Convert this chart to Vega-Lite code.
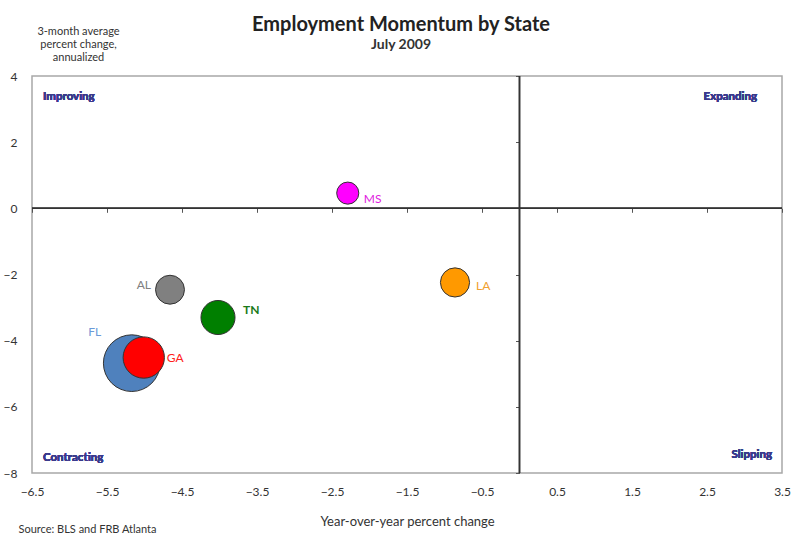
{
  "$schema": "https://vega.github.io/schema/vega-lite/v6.json",
  "width": 750,
  "height": 397,
  "autosize": "none",
  "padding": {"left": 32, "top": 76, "right": 10, "bottom": 64},
  "background": "white",
  "config": {
    "font": "Lato",
    "view": {"stroke": "#a8a8a8", "strokeWidth": 1.5},
    "axis": {"grid": false, "labelFont": "Lato", "titleFont": "Lato", "labelColor": "#333", "titleColor": "#333"}
  },
  "title": {
    "text": "Employment Momentum by State",
    "subtitle": "July 2009",
    "fontSize": 20,
    "fontWeight": "bold",
    "subtitleFontSize": 14,
    "subtitleFontWeight": "bold",
    "subtitleColor": "#333",
    "color": "#222",
    "anchor": "middle",
    "dx": -6,
    "offset": -27,
    "subtitlePadding": 3
  },
  "data": {
    "values": [
      {"state": "FL", "yoy": -5.17, "mom3": -4.68, "employment": 7300},
      {"state": "GA", "yoy": -5.01, "mom3": -4.51, "employment": 3880},
      {"state": "TN", "yoy": -4.02, "mom3": -3.30, "employment": 2640},
      {"state": "AL", "yoy": -4.66, "mom3": -2.46, "employment": 1900},
      {"state": "LA", "yoy": -0.86, "mom3": -2.24, "employment": 1930},
      {"state": "MS", "yoy": -2.29, "mom3": 0.46, "employment": 1110}
    ]
  },
  "resolve": {"axis": {"x": "independent", "y": "independent"}},
  "layer": [
    {
      "mark": {"type": "circle", "opacity": 1, "stroke": "#333", "strokeWidth": 1},
      "encoding": {
        "x": {
          "field": "yoy", "type": "quantitative",
          "scale": {"domain": [-6.5, 3.5], "nice": false, "zero": false},
          "axis": {
            "values": [-6.5, -5.5, -4.5, -3.5, -2.5, -1.5, -0.5, 0.5, 1.5, 2.5, 3.5],
            "format": ".1f", "labelFlush": false,
            "ticks": false, "domain": false,
            "labelPadding": 13, "labelFontSize": 12,
            "title": "Year-over-year percent change",
            "titleFontSize": 13, "titleFontWeight": "normal", "titlePadding": 18
          }
        },
        "y": {
          "field": "mom3", "type": "quantitative",
          "scale": {"domain": [-8, 4], "nice": false, "zero": false},
          "axis": {
            "values": [-8, -6, -4, -2, 0, 2, 4],
            "labelFlush": false,
            "ticks": false, "domain": false,
            "labelPadding": 15, "labelFontSize": 12,
            "title": ["3-month average", "percent change,", "annualized"],
            "titleAngle": 0, "titleAlign": "center", "titleBaseline": "alphabetic",
            "titleFontSize": 11, "titleFontWeight": "normal", "titleLineHeight": 13,
            "titleX": 46, "titleY": -42
          }
        },
        "size": {
          "field": "employment", "type": "quantitative",
          "scale": {"type": "linear", "domain": [0, 7500], "range": [0, 3300]},
          "legend": null
        },
        "color": {
          "field": "state", "type": "nominal",
          "scale": {
            "domain": ["FL", "GA", "TN", "AL", "LA", "MS"],
            "range": ["#4f81bd", "#ff0000", "#007f00", "#808080", "#ff9900", "#ff00ff"]
          },
          "legend": null
        }
      }
    },
    {
      "mark": {"type": "rule", "color": "#333", "strokeWidth": 1.2},
      "encoding": {
        "x": {
          "datum": 0, "type": "quantitative",
          "axis": {
            "orient": "bottom", "offset": -264.7,
            "values": [-6.5, -5.5, -4.5, -3.5, -2.5, -1.5, -0.5, 0.5, 1.5, 2.5, 3.5],
            "labels": false, "domain": false,
            "ticks": true, "tickSize": 4, "tickColor": "#555",
            "title": "Source: BLS and FRB Atlanta",
            "titleFontSize": 11, "titleFontWeight": "normal",
            "titleAnchor": "start", "titleAlign": "left", "titleBaseline": "alphabetic",
            "titleX": -14, "titleY": 324
          }
        }
      }
    },
    {
      "mark": {"type": "rule", "color": "#333", "strokeWidth": 1.2},
      "encoding": {
        "y": {
          "datum": 0, "type": "quantitative",
          "axis": {
            "orient": "left", "offset": -487.5,
            "values": [-8, -6, -4, -2, 0, 2, 4],
            "labels": false, "domain": false,
            "ticks": true, "tickSize": 4, "tickColor": "#555",
            "title": null
          }
        }
      }
    },
    {
      "mark": {"type": "text", "text": "Improving", "align": "left", "baseline": "middle", "fontSize": 11.5, "fontWeight": "bold", "color": "#3a3a8c"},
      "encoding": {"x": {"datum": -6.353, "type": "quantitative", "axis": null}, "y": {"datum": 3.37, "type": "quantitative", "axis": null}}
    },
    {
      "mark": {"type": "text", "text": "Expanding", "align": "right", "baseline": "middle", "fontSize": 11.5, "fontWeight": "bold", "color": "#3a3a8c"},
      "encoding": {"x": {"datum": 3.167, "type": "quantitative", "axis": null}, "y": {"datum": 3.37, "type": "quantitative", "axis": null}}
    },
    {
      "mark": {"type": "text", "text": "Contracting", "align": "left", "baseline": "middle", "fontSize": 11.5, "fontWeight": "bold", "color": "#3a3a8c"},
      "encoding": {"x": {"datum": -6.353, "type": "quantitative", "axis": null}, "y": {"datum": -7.54, "type": "quantitative", "axis": null}}
    },
    {
      "mark": {"type": "text", "text": "Slipping", "align": "right", "baseline": "middle", "fontSize": 11.5, "fontWeight": "bold", "color": "#3a3a8c"},
      "encoding": {"x": {"datum": 3.367, "type": "quantitative", "axis": null}, "y": {"datum": -7.47, "type": "quantitative", "axis": null}}
    },
    {
      "transform": [{"filter": "datum.state === 'MS'"}],
      "mark": {"type": "text", "align": "left", "baseline": "middle", "dx": 16, "dy": 6, "fontSize": 12, "color": "#e020e0"},
      "encoding": {"x": {"field": "yoy", "type": "quantitative", "axis": null}, "y": {"field": "mom3", "type": "quantitative", "axis": null}, "text": {"field": "state"}}
    },
    {
      "transform": [{"filter": "datum.state === 'LA'"}],
      "mark": {"type": "text", "align": "left", "baseline": "middle", "dx": 21, "dy": 4, "fontSize": 12, "color": "#f0a030"},
      "encoding": {"x": {"field": "yoy", "type": "quantitative", "axis": null}, "y": {"field": "mom3", "type": "quantitative", "axis": null}, "text": {"field": "state"}}
    },
    {
      "transform": [{"filter": "datum.state === 'AL'"}],
      "mark": {"type": "text", "align": "right", "baseline": "middle", "dx": -19, "dy": -5, "fontSize": 12, "color": "#808080"},
      "encoding": {"x": {"field": "yoy", "type": "quantitative", "axis": null}, "y": {"field": "mom3", "type": "quantitative", "axis": null}, "text": {"field": "state"}}
    },
    {
      "transform": [{"filter": "datum.state === 'TN'"}],
      "mark": {"type": "text", "align": "left", "baseline": "middle", "dx": 25, "dy": -8, "fontSize": 12, "fontWeight": "bold", "color": "#1a7a1a"},
      "encoding": {"x": {"field": "yoy", "type": "quantitative", "axis": null}, "y": {"field": "mom3", "type": "quantitative", "axis": null}, "text": {"field": "state"}}
    },
    {
      "transform": [{"filter": "datum.state === 'FL'"}],
      "mark": {"type": "text", "align": "center", "baseline": "middle", "dx": -37, "dy": -31, "fontSize": 12, "color": "#6a9ad8"},
      "encoding": {"x": {"field": "yoy", "type": "quantitative", "axis": null}, "y": {"field": "mom3", "type": "quantitative", "axis": null}, "text": {"field": "state"}}
    },
    {
      "transform": [{"filter": "datum.state === 'GA'"}],
      "mark": {"type": "text", "align": "left", "baseline": "middle", "dx": 23, "dy": 0, "fontSize": 12, "color": "#ff2020"},
      "encoding": {"x": {"field": "yoy", "type": "quantitative", "axis": null}, "y": {"field": "mom3", "type": "quantitative", "axis": null}, "text": {"field": "state"}}
    }
  ]
}
